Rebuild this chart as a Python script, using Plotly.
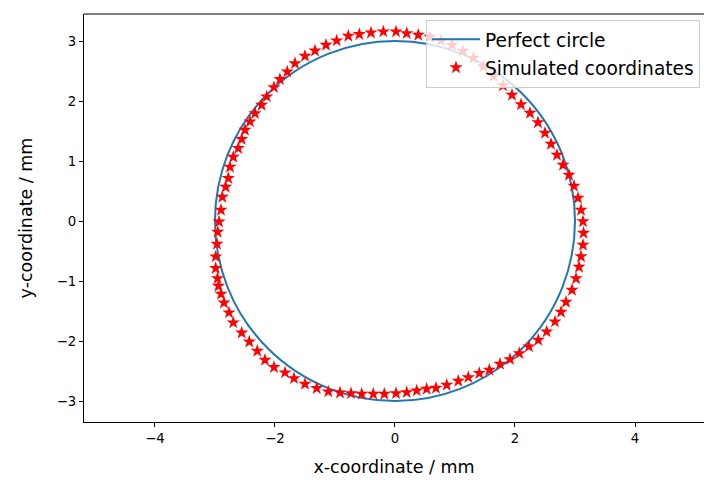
import plotly.graph_objects as go

# Perfect circle (radius, centre) in mm
circle_radius = 3.0
circle_centre = (0.0, 0.0)

# Simulated coordinates in mm
sim_x = [0.017, 0.195, 0.388, 0.583, 0.767, 0.95, 1.133, 1.308, 1.475, 1.642,
         1.80, 1.95, 2.10, 2.25, 2.383, 2.50, 2.60, 2.70, 2.80, 2.90,
         2.983, 3.05, 3.10, 3.133, 3.142, 3.133, 3.10, 3.067, 3.017, 2.95,
         2.85, 2.767, 2.667, 2.528, 2.388, 2.233, 2.072, 1.917, 1.75, 1.572,
         1.405, 1.222, 1.055, 0.862, 0.683, 0.528, 0.362, 0.195, 0.017, -0.178,
         -0.362, -0.555, -0.733, -0.917, -1.112, -1.305, -1.50, -1.683, -1.833, -2.017,
         -2.167, -2.295, -2.428, -2.555, -2.695, -2.767, -2.85, -2.90, -2.942, -2.958,
         -2.988, -2.988, -2.967, -2.955, -2.933, -2.90, -2.878, -2.822, -2.778, -2.75,
         -2.695, -2.612, -2.555, -2.50, -2.417, -2.333, -2.222, -2.138, -2.017, -1.917,
         -1.795, -1.667, -1.50, -1.333, -1.15, -0.972, -0.778, -0.595, -0.40, -0.195]
sim_y = [3.155, 3.128, 3.10, 3.067, 3.008, 2.933, 2.833, 2.717, 2.575, 2.417,
         2.258, 2.10, 1.942, 1.80, 1.642, 1.467, 1.283, 1.10, 0.933, 0.767,
         0.583, 0.383, 0.183, -0.008, -0.20, -0.40, -0.592, -0.767, -0.958, -1.15,
         -1.35, -1.517, -1.678, -1.845, -1.983, -2.095, -2.205, -2.305, -2.383, -2.483,
         -2.538, -2.605, -2.667, -2.733, -2.783, -2.80, -2.828, -2.855, -2.872, -2.883,
         -2.883, -2.883, -2.872, -2.862, -2.845, -2.788, -2.717, -2.622, -2.528, -2.438,
         -2.317, -2.167, -2.012, -1.862, -1.695, -1.528, -1.362, -1.217, -1.083, -0.955,
         -0.788, -0.595, -0.383, -0.183, -0.012, 0.183, 0.40, 0.567, 0.712, 0.90,
         1.067, 1.212, 1.362, 1.517, 1.655, 1.795, 1.933, 2.072, 2.228, 2.362,
         2.488, 2.628, 2.75, 2.838, 2.933, 3.005, 3.083, 3.112, 3.138, 3.155]

x_ticks = [-4, -2, 0, 2, 4]
y_ticks = [-3, -2, -1, 0, 1, 2, 3]

tick_font = dict(family="DejaVu Sans", size=13.3, color="black")
label_font = dict(family="DejaVu Sans", size=17.5, color="black")
legend_font = dict(family="DejaVu Sans", size=18.6, color="black")
circle_colour = "#1f77b4"

fig = go.Figure()
# legend entry for the perfect circle (the circle itself is a data-space shape)
fig.add_trace(go.Scatter(
    x=[None], y=[None], mode="lines", name="Perfect circle",
    line=dict(color=circle_colour, width=2), legendrank=1, legendgroup="a",
    hoverinfo="skip",
))
fig.add_trace(go.Scatter(
    x=sim_x, y=sim_y, mode="markers", name="Simulated coordinates",
    marker=dict(symbol="star", size=10, color="red", line=dict(width=0)),
    legendrank=2, legendgroup="b",
))
fig.add_shape(
    type="circle", xref="x", yref="y",
    x0=circle_centre[0] - circle_radius, x1=circle_centre[0] + circle_radius,
    y0=circle_centre[1] - circle_radius, y1=circle_centre[1] + circle_radius,
    line=dict(color=circle_colour, width=2), layer="below",
)
# top spine of the axes frame
fig.add_shape(type="line", xref="paper", yref="paper", x0=0, x1=1, y0=1, y1=1,
              line=dict(color="black", width=1))

axis_common = dict(
    showgrid=False, zeroline=False, showline=True, linecolor="black",
    linewidth=1, mirror=False, ticks="outside", ticklen=4, tickwidth=1,
    tickcolor="black", tickfont=tick_font,
)
fig.update_layout(
    width=704, height=480,
    margin=dict(l=84, r=0, t=14, b=58, autoexpand=False),
    paper_bgcolor="white", plot_bgcolor="white",
    font=tick_font,
    xaxis=dict(range=[-5.183, 5.15], tickvals=x_ticks,
               title=dict(text="x-coordinate / mm", font=label_font, standoff=15),
               **axis_common),
    yaxis=dict(range=[-3.35, 3.45], tickvals=y_ticks,
               title=dict(text="y-coordinate / mm", font=label_font, standoff=19),
               **axis_common),
    legend=dict(x=0.5516, y=0.986, xanchor="left", yanchor="top",
                bgcolor="rgba(255,255,255,0.8)", bordercolor="#cccccc",
                borderwidth=1, font=legend_font, tracegroupgap=1, itemwidth=48),
    showlegend=True,
)
fig.write_html(
    "out.html",
    config={"displayModeBar": False},
    post_script="document.body.style.margin='0';document.body.style.overflow='hidden';",
)
